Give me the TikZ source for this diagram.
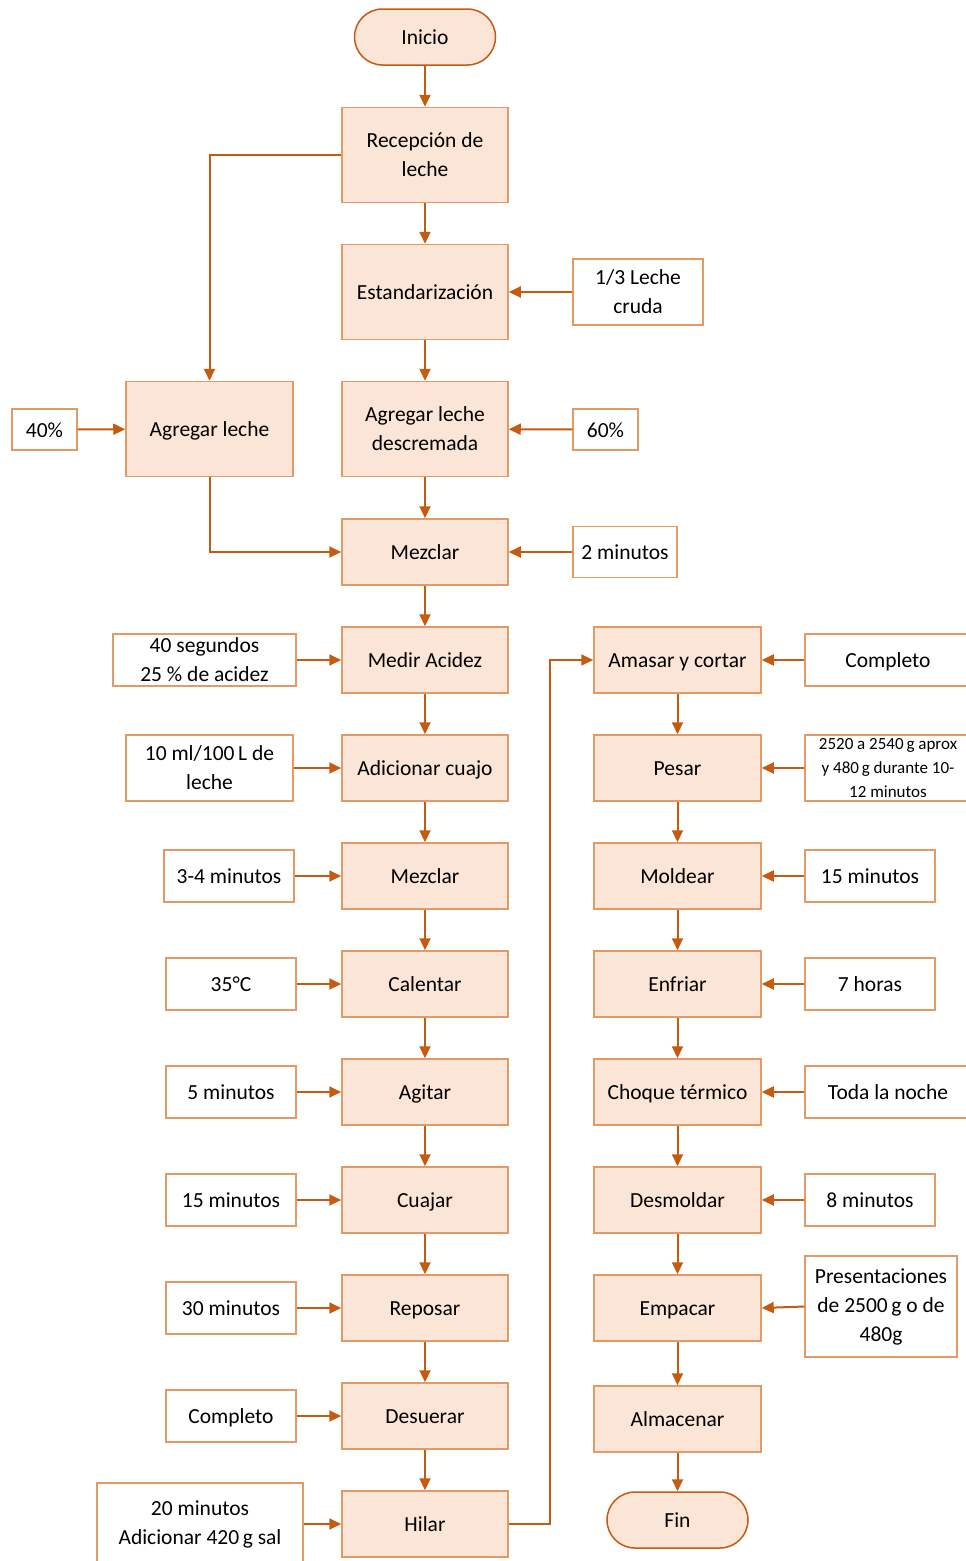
\documentclass[tikz,border=0pt]{standalone}
\usepackage{fontspec}
\setmainfont{Carlito}
\usetikzlibrary{arrows.meta}
\definecolor{fillc}{HTML}{FBE5D6}
\definecolor{borderc}{HTML}{E39A65}
\definecolor{arrc}{HTML}{C55A11}
\tikzset{
  every node/.style={font=\fontsize{21.5}{29}\selectfont, align=center, inner sep=0pt, text height=17pt, text depth=1.5pt},
  ml/.style={text height=, text depth=},
  proc/.style={rectangle, draw=borderc, fill=fillc, line width=1.5pt, minimum width=166pt, minimum height=66pt},
  tallproc/.style={proc, minimum height=95pt},
  term/.style={rectangle, rounded corners=28pt, draw=arrc, fill=fillc, line width=1.5pt, minimum width=141pt, minimum height=56pt},
  inbox/.style={rectangle, draw=borderc, fill=white, line width=1.5pt},
  arr/.style={draw=arrc, line width=2pt, -{Triangle[length=12pt,width=11pt]}},
}
\begin{document}
\begin{tikzpicture}[x=1pt,y=-1pt]
\useasboundingbox (0,0) rectangle (966,1561);
\clip (0,0) rectangle (966,1561);
% main column
\node[term] (ini) at (425,37) {Inicio};
\node[tallproc, ml] (rec) at (425,155) {Recepción de\\leche};
\node[tallproc] (est) at (425,292) {Estandarización};
\node[tallproc, ml] (agd) at (425,429) {Agregar leche\\descremada};
\node[proc] (mz1) at (425,552) {Mezclar};
\node[proc] (med) at (425,660) {Medir Acidez};
\node[proc] (cua) at (425,768) {Adicionar cuajo};
\node[proc] (mz2) at (425,876) {Mezclar};
\node[proc] (cal) at (425,984) {Calentar};
\node[proc] (agi) at (425,1092) {Agitar};
\node[proc] (cuj) at (425,1200) {Cuajar};
\node[proc] (rep) at (425,1308) {Reposar};
\node[proc] (des) at (425,1416) {Desuerar};
\node[proc] (hil) at (425,1524) {Hilar};
% left branch
\node[tallproc, minimum width=167pt] (agl) at (209.5,429) {Agregar leche};
\node[inbox, minimum width=65pt, minimum height=41pt] (p40) at (44.5,429.5) {40\%};
% right inputs top
\node[inbox, ml, minimum width=130pt, minimum height=66pt] (lc) at (638,292) {1/3 Leche\\cruda};
\node[inbox, minimum width=65pt, minimum height=41pt] (p60) at (605.5,429.5) {60\%};
\node[inbox, minimum width=104pt, minimum height=51pt] (m2) at (625,552) {2 minutos};
% left inputs
\node[inbox, ml, minimum width=183pt, minimum height=52pt] (i1) at (204.5,660) {40 segundos\\25 \% de acidez};
\node[inbox, ml, minimum width=167pt, minimum height=66pt] (i2) at (209.5,768) {10 ml/100\,L de\\leche};
\node[inbox, minimum width=130pt, minimum height=52pt] (i3) at (229,876) {3-4 minutos};
\node[inbox, minimum width=130pt, minimum height=52pt] (i4) at (231,984) {35°C};
\node[inbox, minimum width=130pt, minimum height=52pt] (i5) at (231,1092) {5 minutos};
\node[inbox, minimum width=130pt, minimum height=52pt] (i6) at (231,1200) {15 minutos};
\node[inbox, minimum width=130pt, minimum height=52pt] (i7) at (231,1308) {30 minutos};
\node[inbox, minimum width=130pt, minimum height=52pt] (i8) at (231,1416) {Completo};
\node[inbox, ml, minimum width=206pt, minimum height=82pt] (i9) at (200,1524) {20 minutos\\Adicionar 420\,g sal};
% right column
\node[proc, minimum width=167pt] (ama) at (677.5,660) {Amasar y cortar};
\node[proc, minimum width=167pt] (pes) at (677.5,768) {Pesar};
\node[proc, minimum width=167pt] (mol) at (677.5,876) {Moldear};
\node[proc, minimum width=167pt] (enf) at (677.5,984) {Enfriar};
\node[proc, minimum width=167pt] (cho) at (677.5,1092) {Choque térmico};
\node[proc, minimum width=167pt] (dem) at (677.5,1200) {Desmoldar};
\node[proc, minimum width=167pt] (emp) at (677.5,1308) {Empacar};
\node[proc, minimum width=167pt] (alm) at (677.5,1419) {Almacenar};
\node[term] (fin) at (677.5,1520) {Fin};
% right inputs
\node[inbox, minimum width=166pt, minimum height=52pt] (r1) at (888,660) {Completo};
\node[inbox, ml, minimum width=166pt, minimum height=66pt, font=\fontsize{17}{24}\selectfont] (r2) at (888,768) {2520 a 2540\,g aprox\\y 480\,g durante 10-\\12 minutos};
\node[inbox, minimum width=130pt, minimum height=52pt] (r3) at (870,876) {15 minutos};
\node[inbox, minimum width=130pt, minimum height=52pt] (r4) at (870,984) {7 horas};
\node[inbox, minimum width=166pt, minimum height=52pt] (r5) at (888,1092) {Toda la noche};
\node[inbox, minimum width=130pt, minimum height=52pt] (r6) at (870,1200) {8 minutos};
\node[inbox, ml, minimum width=152pt, minimum height=101pt] (r7) at (881,1306.5) {Presentaciones\\de 2500\,g o de\\480g};
% main flow
\draw[arr] (ini) -- (rec);
\draw[arr] (rec) -- (est);
\draw[arr] (est) -- (agd);
\draw[arr] (agd) -- (mz1);
\draw[arr] (mz1) -- (med);
\draw[arr] (med) -- (cua);
\draw[arr] (cua) -- (mz2);
\draw[arr] (mz2) -- (cal);
\draw[arr] (cal) -- (agi);
\draw[arr] (agi) -- (cuj);
\draw[arr] (cuj) -- (rep);
\draw[arr] (rep) -- (des);
\draw[arr] (des) -- (hil);
\draw[arr] (rec.west) -| (agl.north);
\draw[arr] (agl.south) |- (mz1.west);
\draw[arr] (p40) -- (agl);
\draw[arr] (lc) -- (est);
\draw[arr] (p60) -- (agd);
\draw[arr] (m2) -- (mz1);
\draw[arr] (i1) -- (med);
\draw[arr] (i2) -- (cua);
\draw[arr] (i3) -- (mz2);
\draw[arr] (i4) -- (cal);
\draw[arr] (i5) -- (agi);
\draw[arr] (i6) -- (cuj);
\draw[arr] (i7) -- (rep);
\draw[arr] (i8) -- (des);
\draw[arr] (i9.east |- hil.west) -- (hil.west);
\coordinate (turn) at (549.5,1524);
\draw[arr] (hil.east) -- (turn) |- (ama.west);
\draw[arr] (ama) -- (pes);
\draw[arr] (pes) -- (mol);
\draw[arr] (mol) -- (enf);
\draw[arr] (enf) -- (cho);
\draw[arr] (cho) -- (dem);
\draw[arr] (dem) -- (emp);
\draw[arr] (emp) -- (alm);
\draw[arr] (alm) -- (fin);
\draw[arr] (r1) -- (ama);
\draw[arr] (r2) -- (pes);
\draw[arr] (r3) -- (mol);
\draw[arr] (r4) -- (enf);
\draw[arr] (r5) -- (cho);
\draw[arr] (r6) -- (dem);
\draw[arr] (r7.west) -- (emp.east);
\end{tikzpicture}
\end{document}
